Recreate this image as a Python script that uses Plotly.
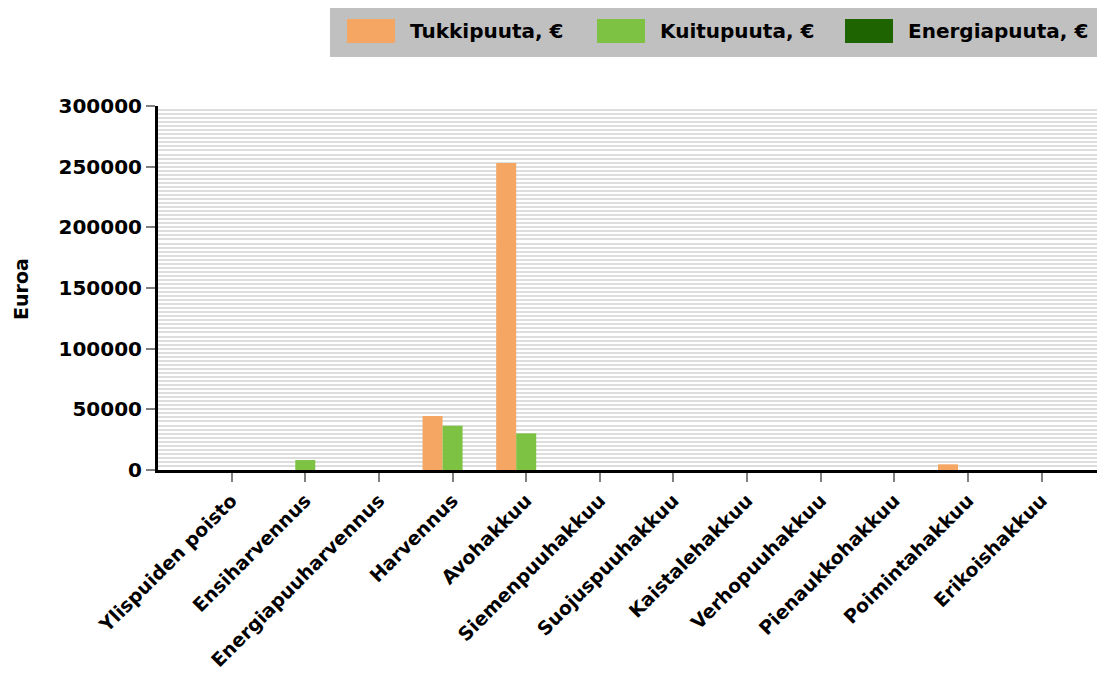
import plotly.graph_objects as go

categories = ["Ylispuiden poisto", "Ensiharvennus", "Energiapuuharvennus", "Harvennus",
              "Avohakkuu", "Siemenpuuhakkuu", "Suojuspuuhakkuu", "Kaistalehakkuu",
              "Verhopuuhakkuu", "Pienaukkohakkuu", "Poimintahakkuu", "Erikoishakkuu"]
series_names = ["Tukkipuuta, €", "Kuitupuuta, €", "Energiapuuta, €"]
tukki = [0, 0, 0, 44500, 253000, 0, 0, 0, 0, 0, 4700, 0]
kuitu = [0, 8200, 0, 36500, 30200, 0, 0, 0, 0, 0, 0, 0]
energia = [0, 0, 0, 0, 0, 0, 0, 0, 0, 0, 0, 0]
colors = ["#F5A663", "#7DC242", "#1E6400"]
y_title = "Euroa"

OFF = 8  # page body margin
W, H = 1105 - OFF, 677 - OFF
L, R, T = 158 - OFF, 0, 106 - OFF
B = H - (470 - OFF)
PW, PH = W - L - R, H - T - B
FONT = "DejaVu Sans"

fig = go.Figure()
for name, vals, col in zip(series_names, [tukki, kuitu, energia], colors):
    fig.add_trace(go.Bar(x=categories, y=vals, name=name, marker_color=col,
                         marker_line_width=0, showlegend=False))

def px_x(p):
    return (p - OFF - L) / PW

def px_y(p):
    return (H - B - (p - OFF)) / PH

shapes = [dict(type="rect", xref="paper", yref="paper",
               x0=px_x(330), x1=px_x(1105), y0=px_y(57), y1=px_y(0),
               fillcolor="#C0C0C0", line_width=0, layer="above")]
annotations = []
sw_left = [347, 597, 845]
for name, col, sx in zip(series_names, colors, sw_left):
    shapes.append(dict(type="rect", xref="paper", yref="paper",
                       x0=px_x(sx), x1=px_x(sx + 48), y0=px_y(43), y1=px_y(19),
                       fillcolor=col, line_width=0, layer="above"))
    annotations.append(dict(xref="paper", yref="paper", x=px_x(sx + 61), y=px_y(31),
                            text=name, showarrow=False, xanchor="left", yanchor="middle",
                            font=dict(family=FONT, size=20, color="black", weight="bold")))
annotations.append(dict(xref="paper", yref="paper", x=px_x(21), y=px_y(289),
                        text=y_title, showarrow=False, textangle=-90,
                        xanchor="center", yanchor="middle", borderpad=0,
                        font=dict(family=FONT, size=19, color="black", weight="bold")))

fig.update_layout(
    width=W, height=H,
    margin=dict(l=L, r=R, t=T, b=B, pad=0),
    paper_bgcolor="white", plot_bgcolor="white",
    barmode="group", bargap=0.185, bargroupgap=0,
    shapes=shapes, annotations=annotations,
    font=dict(family=FONT, size=19, color="black"),
)
fig.update_xaxes(
    type="category", range=[-1.0, 11.86],
    showline=True, linecolor="black", linewidth=3,
    ticks="outside", ticklen=9, tickcolor="#808080", tickwidth=1.5,
    tickangle=-45, showgrid=False, zeroline=False,
    tickfont=dict(family=FONT, size=19, color="black", weight="bold"),
)
fig.update_yaxes(
    range=[0, 300000], dtick=50000, tick0=0,
    showline=True, linecolor="black", linewidth=3,
    ticks="outside", ticklen=9, tickcolor="#808080", tickwidth=1.5,
    showgrid=True, gridcolor="#DDDDDD", gridwidth=2,
    minor=dict(dtick=300000 / 90, tick0=0, showgrid=True, gridcolor="#DDDDDD", gridwidth=2),
    zeroline=False, tickformat="d",
    tickfont=dict(family=FONT, size=20, color="black", weight="bold"),
)

fig.write_html("out.html")
